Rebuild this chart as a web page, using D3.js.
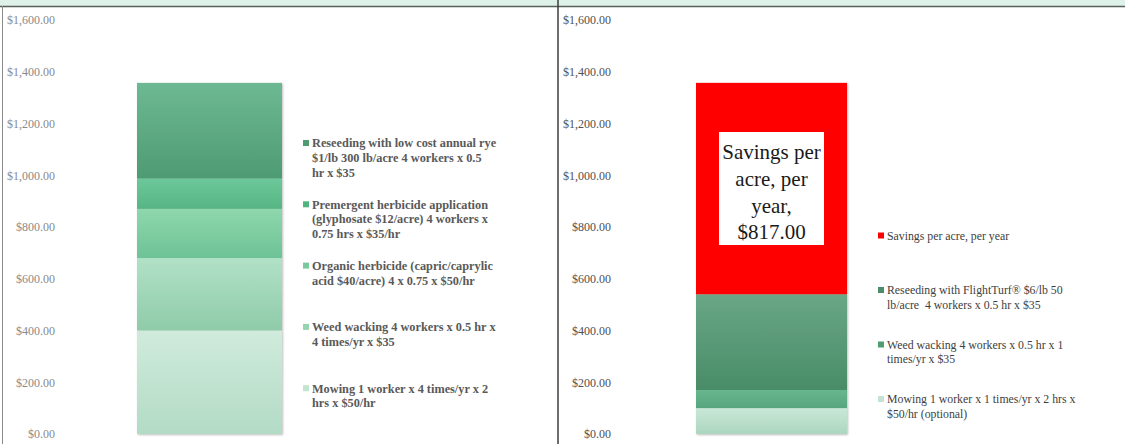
<!DOCTYPE html>
<html>
<head>
<meta charset="utf-8">
<script src="https://cdn.jsdelivr.net/npm/d3@7"></script>
<style>
  body { margin: 0; background: #fff; }
  svg { display: block; font-family: "Liberation Serif", "DejaVu Serif", serif; }
</style>
</head>
<body>
<div id="chart"></div>
<script>
// Values (cost per acre, per year)
const leftLabels = [
    ["Mowing 1 worker x 4 times/yr x 2", "hrs x $50/hr"],
    ["Weed wacking 4 workers x 0.5 hr x", "4 times/yr x $35"],
    ["Organic herbicide (capric/caprylic", "acid $40/acre) 4 x 0.75 x $50/hr"],
    ["Premergent herbicide application", "(glyphosate $12/acre) 4 workers x", "0.75 hrs x $35/hr"],
    ["Reseeding with low cost annual rye", "$1/lb 300 lb/acre 4 workers x 0.5", "hr x $35"]
];
const leftValues = [400, 280, 190, 117, 370];

const rightLabels = [
    ["Mowing 1 worker x 1 times/yr x 2 hrs x", "$50/hr (optional)"],
    ["Weed wacking 4 workers x 0.5 hr x 1", "times/yr x $35"],
    ["Reseeding with FlightTurf\u00AE $6/lb 50", "lb/acre \u00A04 workers x 0.5 hr x $35"],
    ["Savings per acre, per year"]
];
const rightValues = [100, 70, 370, 817];

const yTicks = [0, 200, 400, 600, 800, 1000, 1200, 1400, 1600];
const calloutLines = ["Savings per", "acre, per", "year,", "$817.00"];

// colours (bottom segment first) - gradient top / bottom, legend swatch
const leftFills = [["#d0ebdc", "#b2dbc5"], ["#b1e1c7", "#8fcba9"], ["#8fd7ad", "#6dc396"], ["#6cc898", "#57b584"], ["#6db993", "#4e9b72"]];
const leftSwatch = ["#c3e4d1", "#96d4b2", "#79c99d", "#4fb47f", "#4f9c73"];
const rightFills = [["#c9e8d7", "#acd6c0"], ["#67b68d", "#57a57f"], ["#69a787", "#498c67"], ["#ff0000", "#ff0000"]];
const rightSwatch = ["#c5e3d3", "#4f9c73", "#4a8d68", "#ff0000"];

const width = 1125, height = 444;

const svg = d3.select("#chart").append("svg")
    .attr("width", width)
    .attr("height", height);

const defs = svg.append("defs");
const shadow = defs.append("filter").attr("id", "shadow")
    .attr("x", "-10%").attr("y", "-10%").attr("width", "120%").attr("height", "120%");
shadow.append("feDropShadow")
    .attr("dx", 1).attr("dy", 1).attr("stdDeviation", 1.2)
    .attr("flood-color", "#000").attr("flood-opacity", 0.25);

// header strip and frame lines
svg.append("rect").attr("x", 0).attr("y", 0).attr("width", width).attr("height", 6).attr("fill", "#dff2ea");
svg.append("line").attr("x1", 0).attr("x2", width).attr("y1", 6.5).attr("y2", 6.5)
    .attr("stroke", "#58605c").attr("stroke-width", 1.5);
svg.append("line").attr("x1", 2.5).attr("x2", 2.5).attr("y1", 6).attr("y2", height)
    .attr("stroke", "#8a8a8a").attr("stroke-width", 1);
svg.append("line").attr("x1", 558).attr("x2", 558).attr("y1", 0).attr("y2", height)
    .attr("stroke", "#3d3d3d").attr("stroke-width", 1.5);

const y = d3.scaleLinear().domain([0, 1600]).range([434, 20]);

function drawPanel(opts) {
    const g = svg.append("g");

    // y axis labels only
    const axis = d3.axisLeft(y)
        .tickValues(yTicks)
        .tickSize(0)
        .tickPadding(0)
        .tickFormat(d => "$" + d3.format(",.2f")(d));
    const ax = g.append("g")
        .attr("transform", `translate(${opts.axisX},0)`)
        .call(axis);
    ax.select(".domain").remove();
    ax.selectAll("text")
        .attr("font-family", "Liberation Serif, serif")
        .attr("font-size", 12)
        .attr("fill", opts.tickColor);

    // stacked bar
    const x = d3.scaleBand().domain(["bar"]).range([opts.barX0, opts.barX1]).padding(0);
    const keys = opts.values.map((v, i) => "s" + i);
    const row = {};
    keys.forEach((k, i) => row[k] = opts.values[i]);
    const series = d3.stack().keys(keys)([row]);

    opts.fills.forEach((f, i) => {
        const grad = defs.append("linearGradient")
            .attr("id", opts.id + "g" + i)
            .attr("x1", 0).attr("y1", 0).attr("x2", 0).attr("y2", 1);
        grad.append("stop").attr("offset", "0%").attr("stop-color", f[0]);
        grad.append("stop").attr("offset", "100%").attr("stop-color", f[1]);
    });

    g.append("g").attr("filter", "url(#shadow)")
        .selectAll("rect")
        .data(series)
        .join("rect")
        .attr("x", x("bar"))
        .attr("width", x.bandwidth())
        .attr("y", d => y(d[0][1]))
        .attr("height", d => y(d[0][0]) - y(d[0][1]))
        .attr("fill", (d, i) => `url(#${opts.id}g${i})`);

    // legend, top of stack first
    const order = d3.range(opts.values.length).reverse();
    const leg = g.selectAll(".legend")
        .data(order)
        .join("g")
        .attr("class", "legend")
        .attr("transform", (d, j) => `translate(${opts.legX},${opts.legY + j * opts.legStep})`);
    leg.append("rect")
        .attr("x", 0).attr("y", -3)
        .attr("width", 6).attr("height", 6)
        .attr("fill", d => opts.swatch[d]);
    leg.each(function (d) {
        const t = d3.select(this).append("text")
            .attr("x", 9)
            .attr("font-size", opts.legSize)
            .attr("font-weight", opts.legWeight)
            .attr("fill", opts.legColor);
        opts.labels[d].forEach((line, k) => {
            t.append("tspan").attr("x", 9).attr("y", k * 14.8).attr("dy", "0.35em").text(line);
        });
    });
    return g;
}

drawPanel({
    id: "L", axisX: 55, tickColor: "#8a8a8a",
    barX0: 137, barX1: 282,
    values: leftValues, fills: leftFills, swatch: leftSwatch, labels: leftLabels,
    legX: 303, legY: 143, legStep: 61.3, legSize: 12.3, legWeight: "bold", legColor: "#595959"
});

const right = drawPanel({
    id: "R", axisX: 611, tickColor: "#505050",
    barX0: 696, barX1: 847,
    values: rightValues, fills: rightFills, swatch: rightSwatch, labels: rightLabels,
    legX: 878, legY: 235.5, legStep: 54.5, legSize: 11.8, legWeight: "normal", legColor: "#404040"
});

// callout box inside the savings segment
const box = right.append("g");
box.append("rect")
    .attr("x", 719).attr("y", 132)
    .attr("width", 105).attr("height", 113)
    .attr("fill", "#fff");
box.append("text")
    .attr("text-anchor", "middle")
    .attr("font-size", 21)
    .attr("fill", "#1a1a1a")
    .selectAll("tspan")
    .data(calloutLines)
    .join("tspan")
    .attr("x", 771.5)
    .attr("y", (d, i) => 152 + i * 26.7)
    .attr("dy", "0.35em")
    .text(d => d);
</script>
</body>
</html>
